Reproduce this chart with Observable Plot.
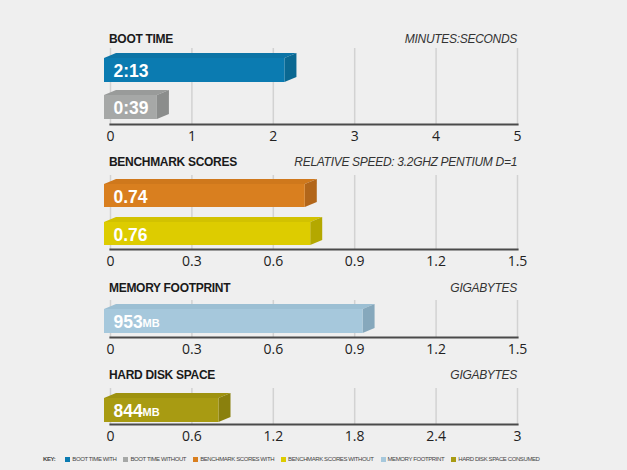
<!DOCTYPE html>
<html>
<head>
<meta charset="utf-8">
<script src="https://cdn.jsdelivr.net/npm/d3@7"></script>
<script src="https://cdn.jsdelivr.net/npm/@observablehq/plot@0.6"></script>
<style>
  html, body { margin: 0; padding: 0; background: #efefef; }
  #root { position: relative; width: 627px; height: 470px; background: #efefef; overflow: hidden; font-family: "Liberation Sans", Arial, sans-serif; }
  .panel { position: absolute; left: 0; }
  .title { position: absolute; left: 109px; font-weight: bold; font-size: 12px; color: #1a1a1a; letter-spacing: -0.3px; }
  .unit { position: absolute; right: 110px; font-style: italic; font-size: 12px; color: #333; letter-spacing: -0.3px; }
  #key { position: absolute; left: 43px; top: 456px; font-size: 6px; color: #444; white-space: nowrap; letter-spacing: -0.4px; }
  #key b { margin-right: 3px; }
  #key .sw { display: inline-block; width: 5px; height: 5px; margin: 0 2px 0 7px; vertical-align: -0.5px; }
</style>
</head>
<body>
<div id="root"></div>
<script>
// ---- data ----
const bootSeries = ["Boot time with", "Boot time without"];
const bootSeconds = [133, 39];
const bootLabels = ["2:13", "0:39"];
const bootTicks = [0, 1, 2, 3, 4, 5];

const benchSeries = ["Benchmark scores with", "Benchmark scores without"];
const benchValues = [0.74, 0.76];
const benchLabels = ["0.74", "0.76"];
const benchTicks = [0, 0.3, 0.6, 0.9, 1.2, 1.5];

const memorySeries = ["Memory footprint"];
const memoryMB = [953];
const memoryTicks = [0, 0.3, 0.6, 0.9, 1.2, 1.5];

const diskSeries = ["Hard disk space consumed"];
const diskMB = [844];
const diskTicks = [0, 0.6, 1.2, 1.8, 2.4, 3];

const panelTitles = ["BOOT TIME", "BENCHMARK SCORES", "MEMORY FOOTPRINT", "HARD DISK SPACE"];
const panelUnits = ["MINUTES:SECONDS", "RELATIVE SPEED: 3.2GHZ PENTIUM D=1", "GIGABYTES", "GIGABYTES"];
const keyLabels = ["BOOT TIME WITH", "BOOT TIME WITHOUT", "BENCHMARK SCORES WITH", "BENCHMARK SCORES WITHOUT", "MEMORY FOOTPRINT", "HARD DISK SPACE CONSUMED"];

// ---- styles ----
const frontColors = ["#0b7bb1", "#a6a8a7", "#d97f1f", "#ddcc00", "#a6c8dc", "#a89b12"];
const topColors   = ["#0c74a6", "#999b9a", "#cf781c", "#d2c200", "#9cbfd3", "#9e920f"];
const sideColors  = ["#0a6892", "#8b8d8c", "#b2661a", "#b4a800", "#86a8bc", "#8a800d"];

const root = document.getElementById("root");

function bar3d(rows) {
  return Plot.barX(rows, {
    x1: 0, x2: "value", y: "cat",
    render(index, scales) {
      const g = d3.create("svg:g");
      const bw = scales.y.bandwidth ? scales.y.bandwidth() : 24;
      const d = 12, h = 5, off = 6;
      for (const i of index) {
        const r = rows[i];
        const x1 = scales.x(0) - off, x2 = scales.x(r.value) - off;
        const y1 = scales.y(r.cat), y2 = y1 + bw;
        g.append("polygon")
          .attr("points", [[x1, y1], [x1 + d, y1 - h], [x2 + d, y1 - h], [x2, y1]].join(" "))
          .attr("fill", r.top);
        g.append("polygon")
          .attr("points", [[x2, y1], [x2 + d, y1 - h], [x2 + d, y2 - h], [x2, y2]].join(" "))
          .attr("fill", r.side);
        g.append("rect")
          .attr("x", x1).attr("y", y1).attr("width", x2 - x1).attr("height", bw)
          .attr("fill", r.front);
      }
      return g.node();
    }
  });
}

function panel({rows, domainMax, ticks, top, height, yRange, mb, title, unit, titleTop}) {
  const plot = Plot.plot({
    width: 627,
    height,
    marginLeft: 110,
    marginRight: 110,
    marginTop: 2,
    marginBottom: height - yRange.axis,
    style: { background: "transparent", fontFamily: "'Open Sans', sans-serif", fontSize: "14px", color: "#222" },
    x: { domain: [0, domainMax], ticks, tickFormat: d => String(d), label: null },
    y: { domain: rows.map(r => r.cat), range: yRange.range, paddingInner: yRange.pad, paddingOuter: 0, axis: null, label: null },
    marks: [
      Plot.ruleX(ticks, { stroke: "#d2d2d2", strokeWidth: 1.5 }),
      Plot.axisX(ticks, { tickSize: 0, tickPadding: 7, fill: "#222", fontSize: 14, tickFormat: d => String(d), label: null }),
      bar3d(rows),
      Plot.frame({ anchor: "bottom", stroke: "#4a4a4a", strokeWidth: 2.2 }),
      Plot.text(rows, { x: 0, y: "cat", text: "label", textAnchor: "start", dx: 3, dy: 1, fill: "white", fontSize: 17.5, fontWeight: "bold", fontFamily: "'Liberation Sans', Arial, sans-serif", letterSpacing: "-0.5px" }),
      mb ? Plot.text(rows, { x: 0, y: "cat", text: () => "MB", textAnchor: "start", dx: 32, dy: 2, fill: "white", fontSize: 11, fontWeight: "bold", fontFamily: "'Liberation Sans', Arial, sans-serif" }) : null
    ]
  });
  plot.classList.add("panel");
  plot.style.top = top + "px";
  root.appendChild(plot);
  const t = document.createElement("div");
  t.className = "title"; t.textContent = title; t.style.top = titleTop + "px";
  root.appendChild(t);
  const u = document.createElement("div");
  u.className = "unit"; u.textContent = unit; u.style.top = titleTop + "px";
  root.appendChild(u);
}

const bootRows = bootSeries.map((c, i) => ({ cat: c, value: bootSeconds[i] / 60, label: bootLabels[i], front: frontColors[i], top: topColors[i], side: sideColors[i] }));
const benchRows = benchSeries.map((c, i) => ({ cat: c, value: benchValues[i], label: benchLabels[i], front: frontColors[2 + i], top: topColors[2 + i], side: sideColors[2 + i] }));
const memRows = memorySeries.map((c, i) => ({ cat: c, value: memoryMB[i] / 1000, label: String(memoryMB[i]), front: frontColors[4], top: topColors[4], side: sideColors[4] }));
const diskRows = diskSeries.map((c, i) => ({ cat: c, value: diskMB[i] / 1000, label: String(diskMB[i]), front: frontColors[5], top: topColors[5], side: sideColors[5] }));

panel({ rows: bootRows, domainMax: 5, ticks: bootTicks, top: 46, height: 100, yRange: { axis: 78, range: [12, 73.5], pad: 0.338 }, title: panelTitles[0], unit: panelUnits[0], titleTop: 32 });
panel({ rows: benchRows, domainMax: 1.5, ticks: benchTicks, top: 173, height: 100, yRange: { axis: 76, range: [11, 72], pad: 0.395 }, title: panelTitles[1], unit: panelUnits[1], titleTop: 155 });
panel({ rows: memRows, domainMax: 1.5, ticks: memoryTicks, top: 298, height: 63, yRange: { axis: 39, range: [11, 35], pad: 0 }, mb: true, title: panelTitles[2], unit: panelUnits[2], titleTop: 281 });
panel({ rows: diskRows, domainMax: 3, ticks: diskTicks, top: 386, height: 62, yRange: { axis: 38, range: [12, 36], pad: 0 }, mb: true, title: panelTitles[3], unit: panelUnits[3], titleTop: 368 });

// key
const key = document.createElement("div");
key.id = "key";
key.innerHTML = "<b>KEY:</b>" + keyLabels.map((k, i) => `<span class="sw" style="background:${frontColors[i]}"></span>${k}`).join("");
root.appendChild(key);
</script>
</body>
</html>
